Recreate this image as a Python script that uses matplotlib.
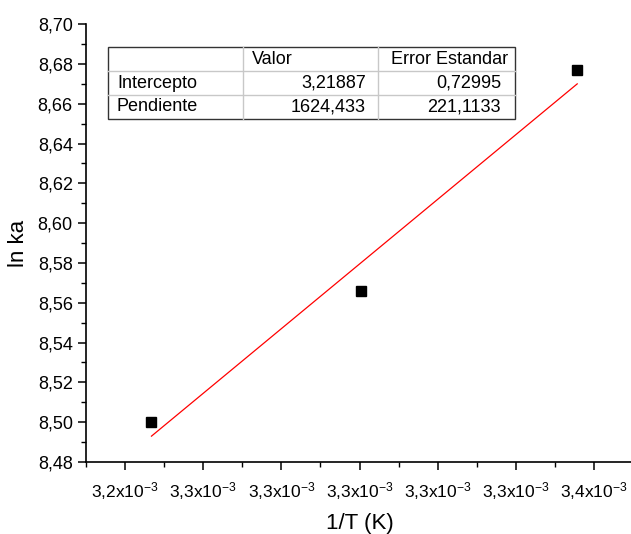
import numpy as np
import matplotlib.pyplot as plt
from matplotlib.ticker import MultipleLocator, FuncFormatter
from matplotlib.lines import Line2D
from matplotlib.patches import Rectangle

plt.rcParams['font.family'] = ['Liberation Sans', 'DejaVu Sans']
plt.rcParams['mathtext.default'] = 'regular'

# data: 1/T for T = 308, 303, 298 K
inv_T = np.array([1/308, 1/303, 1/298])
ln_ka = np.array([8.500, 8.566, 8.677])

# linear fit results (as shown in the table)
intercept = 3.21887
slope = 1624.433
intercept_err = 0.72995
slope_err = 221.1133

col_labels = ["", "Valor", "Error Estandar"]
row_labels = ["Intercepto", "Pendiente"]
row_values = [["3,21887", "0,72995"], ["1624,433", "221,1133"]]

fig = plt.figure(figsize=(6.31, 5.34), dpi=100)
ax = fig.add_axes([0.1363, 0.1348, 0.867, 0.820])

ax.plot(inv_T, ln_ka, 's', color='black', markersize=7, zorder=3)
xfit = np.array([inv_T.min(), inv_T.max()])
ax.plot(xfit, intercept + slope * xfit, color='red', linewidth=0.9)

ax.set_xlim(3.23e-3, 3.37e-3)
ax.set_ylim(8.48, 8.70)

ax.spines['top'].set_visible(False)
ax.spines['right'].set_visible(False)
for s in ['left', 'bottom']:
    ax.spines[s].set_linewidth(1.2)

ax.xaxis.set_major_locator(MultipleLocator(0.02e-3))
ax.xaxis.set_minor_locator(MultipleLocator(0.01e-3))
ax.yaxis.set_major_locator(MultipleLocator(0.02))
ax.yaxis.set_minor_locator(MultipleLocator(0.01))
ax.xaxis.set_major_formatter(FuncFormatter(
    lambda v, p: f"{v*1e3:.1f}".replace('.', ',') + r"x10$^{-3}$"))
ax.yaxis.set_major_formatter(FuncFormatter(
    lambda v, p: f"{v:.2f}".replace('.', ',')))

ax.tick_params(which='major', direction='out', length=6, width=1.1)
ax.tick_params(which='minor', direction='out', length=3.5, width=1.0)
ax.tick_params(axis='y', labelsize=13)
ax.tick_params(axis='x', labelsize=12.5, pad=7)

ax.set_xlabel("1/T (K)", fontsize=16, labelpad=8)
ax.set_ylabel("ln ka", fontsize=16, labelpad=6)

# stats table (drawn in pixel coordinates)
W, H = 631, 534
def fx(px): return px / W
def fy(py): return 1 - py / H

x0, x1, x2, x3 = 108, 243, 378, 515
y0, y1, y2, y3 = 47, 71, 95, 119
light = '#c8c8c8'
for yy in [y1, y2]:
    fig.add_artist(Line2D([fx(x0), fx(x3)], [fy(yy), fy(yy)], color=light, lw=1))
for xx in [x1, x2]:
    fig.add_artist(Line2D([fx(xx), fx(xx)], [fy(y0), fy(y3)], color=light, lw=1))
fig.add_artist(Rectangle((fx(x0), fy(y3)), fx(x3) - fx(x0), fy(y0) - fy(y3),
                         fill=False, edgecolor='#333333', lw=1, transform=fig.transFigure))

fs = 13
fig.text(fx(x1 + 9), fy((y0 + y1) / 2), col_labels[1], fontsize=fs, va='center', ha='left')
fig.text(fx(x2 + 13), fy((y0 + y1) / 2), col_labels[2], fontsize=fs, va='center', ha='left')
for i, (yt, yb) in enumerate([(y1, y2), (y2, y3)]):
    yc = fy((yt + yb) / 2)
    fig.text(fx(x0 + 9), yc, row_labels[i], fontsize=fs, va='center', ha='left')
    fig.text(fx(x2 - 12), yc, row_values[i][0], fontsize=fs, va='center', ha='right')
    fig.text(fx(x3 - 14), yc, row_values[i][1], fontsize=fs, va='center', ha='right')

fig.savefig("out.png", dpi=100)
